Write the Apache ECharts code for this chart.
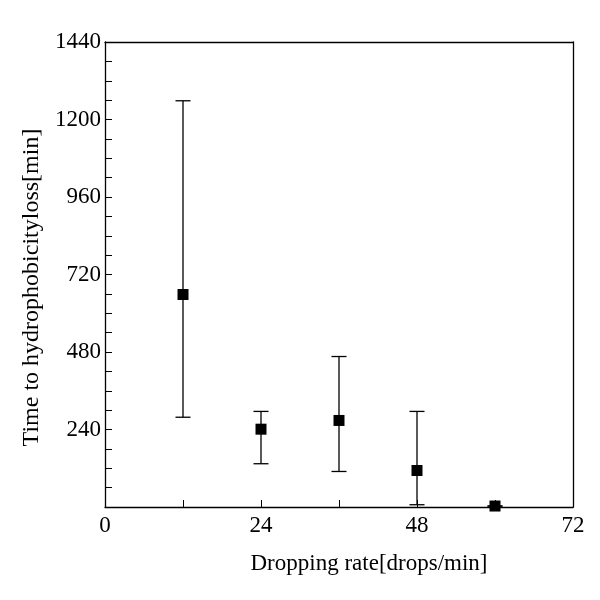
<!DOCTYPE html>
<html><head><meta charset="utf-8">
<script src="https://cdn.jsdelivr.net/npm/echarts@6/dist/echarts.min.js"></script>
<style>html,body{margin:0;padding:0;background:#fff}#c{width:600px;height:600px}</style>
</head><body><div id="c"></div>
<script>
const rates = [12, 24, 36, 48, 60];
const meanTime = [658, 241, 268, 113, 3];
const lowTime = [278, 134, 110, 7, 3];
const highTime = [1258, 296, 466, 296, 3];
const xTicks = [0, 24, 48, 72];
const yTicks = [0, 240, 480, 720, 960, 1200, 1440];

const font = '"Liberation Serif", "Times New Roman", serif';
const chart = echarts.init(document.getElementById('c'), null, {renderer: 'canvas'});
const errData = rates.map((r, i) => [r, lowTime[i], highTime[i]]);
chart.setOption({
  animation: false,
  grid: {left: 105, top: 42, width: 468, height: 465, containLabel: false},
  xAxis: [{
    type: 'value', min: xTicks[0], max: xTicks[xTicks.length - 1], interval: 24,
    axisLine: {show: true, lineStyle: {color: '#000', width: 1.3}},
    axisTick: {show: true, inside: true, length: 7, lineStyle: {color: '#000'}},
    minorTick: {show: true, splitNumber: 2, length: 7, lineStyle: {color: '#000'}},
    splitLine: {show: false},
    axisLabel: {color: '#000', fontFamily: font, fontSize: 23, margin: 7, showMaxLabel: true, showMinLabel: true,
      formatter: v => String(v)},
    name: 'Dropping rate[drops/min]', nameLocation: 'middle', nameGap: 45,
    nameTextStyle: {color: '#000', fontFamily: font, fontSize: 23, padding: [0, 0, 0, 60]}
  }, {
    type: 'value', position: 'top', min: 0, max: 72,
    axisLine: {show: true, onZero: false, lineStyle: {color: '#000', width: 1.3}},
    axisTick: {show: false}, axisLabel: {show: false}, splitLine: {show: false}
  }],
  yAxis: [{
    type: 'value', min: yTicks[0], max: yTicks[yTicks.length - 1], interval: 240,
    axisLine: {show: true, lineStyle: {color: '#000', width: 1.3}},
    axisTick: {show: true, inside: true, length: 7, lineStyle: {color: '#000'}},
    minorTick: {show: true, splitNumber: 4, length: 7, lineStyle: {color: '#000'}},
    splitLine: {show: false},
    axisLabel: {color: '#000', fontFamily: font, fontSize: 23, margin: 4, showMinLabel: false,
      formatter: v => String(v)},
    name: 'Time to hydrophobicityloss[min]', nameLocation: 'middle', nameGap: 59,
    nameTextStyle: {color: '#000', fontFamily: font, fontSize: 24, padding: [0, 26, 0, 0]}
  }, {
    type: 'value', position: 'right', min: 0, max: 1440,
    axisLine: {show: true, onZero: false, lineStyle: {color: '#000', width: 1.3}},
    axisTick: {show: false}, axisLabel: {show: false}, splitLine: {show: false}
  }],
  series: [{
    type: 'custom',
    data: errData,
    renderItem: function (params, api) {
      const x = api.value(0);
      const lo = api.coord([x, api.value(1)]);
      const hi = api.coord([x, api.value(2)]);
      const hw = 7.5;
      const st = {stroke: '#000', lineWidth: 1.3, fill: null};
      return {type: 'group', children: [
        {type: 'line', shape: {x1: lo[0], y1: lo[1], x2: hi[0], y2: hi[1]}, style: st},
        {type: 'line', shape: {x1: lo[0] - hw, y1: lo[1], x2: lo[0] + hw, y2: lo[1]}, style: st},
        {type: 'line', shape: {x1: hi[0] - hw, y1: hi[1], x2: hi[0] + hw, y2: hi[1]}, style: st}
      ]};
    },
    z: 2
  }, {
    type: 'scatter',
    data: rates.map((r, i) => [r, meanTime[i]]),
    symbol: 'rect', symbolSize: 11,
    itemStyle: {color: '#000', opacity: 1},
    z: 3
  }]
});
</script></body></html>
